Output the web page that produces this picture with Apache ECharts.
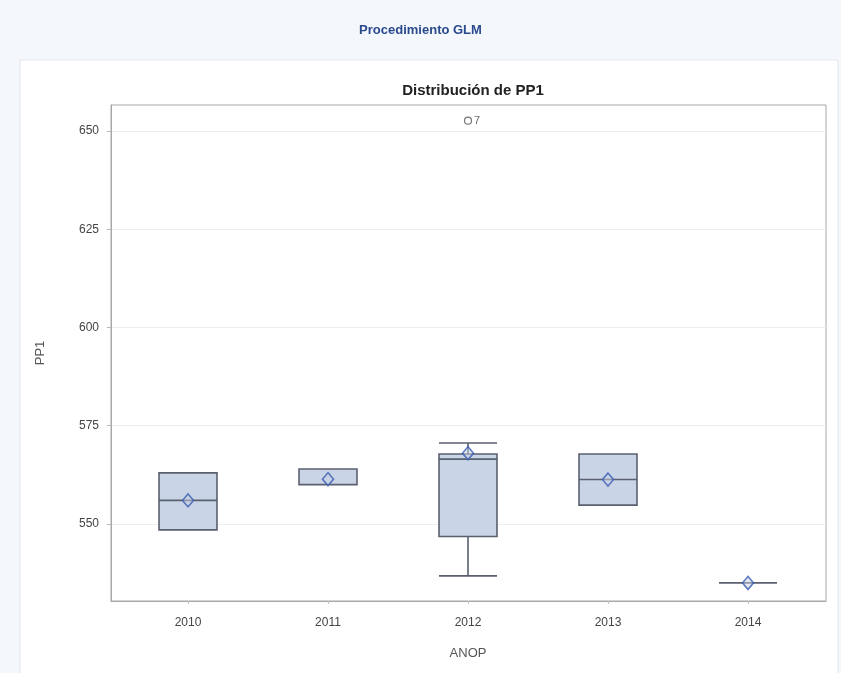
<!DOCTYPE html>
<html>
<head>
<meta charset="utf-8">
<style>
  html, body { margin: 0; padding: 0; background: #f4f7fb; }
  #main { width: 841px; height: 673px; }
</style>
<script src="https://cdn.jsdelivr.net/npm/echarts@6/dist/echarts.min.js"></script>
</head>
<body>
<div id="main"></div>
<script>
var years = ['2010', '2011', '2012', '2013', '2014'];
// box values
var lowWhisker = [548.5, 560.0, 536.8, 554.8, 535.0];
var q1 = [548.5, 560.0, 546.8, 554.8, 535.0];
var median = [556.0, 560.0, 566.5, 561.3, 535.0];
var q3 = [563.0, 564.0, 567.8, 567.8, 535.0];
var highWhisker = [563.0, 564.0, 570.6, 567.8, 535.0];
var means = [556.0, 561.4, 568.0, 561.3, 535.0];
var outliers = [['2012', 652.6, '7']];
var yTicks = [550, 575, 600, 625, 650];
var yMin = 530.4, yMax = 656.6;

var chartDom = document.getElementById('main');
var chart = echarts.init(chartDom, null, { renderer: 'canvas' });

var boxData = years.map(function (y, i) {
    return [lowWhisker[i], q1[i], median[i], q3[i], highWhisker[i]];
});

var font = '"Liberation Sans", Arial, sans-serif';
var labelColor = '#444444';

var option = {
    backgroundColor: '#f4f7fb',
    animation: false,
    graphic: [{
        type: 'rect',
        z: -10,
        shape: { x: 20, y: 60, width: 818, height: 620 },
        style: { fill: '#ffffff', stroke: '#e3e7ee', lineWidth: 1 }
    }],
    title: [{
        text: 'Procedimiento GLM',
        left: 'center',
        top: 19,
        textStyle: { fontFamily: font, fontSize: 13, fontWeight: 'bold', color: '#2a4a8e' }
    }, {
        text: 'Distribución de PP1',
        left: 468,
        textAlign: 'center',
        top: 78,
        textStyle: { fontFamily: font, fontSize: 15, fontWeight: 'bold', color: '#222222' }
    }],
    // grid 0: frame + y axis, grid 1: data area (a bit of padding on both sides)
    grid: [{
        left: 111, right: 15, top: 105, bottom: 72,
        show: true,
        borderColor: '#a8a8a8',
        borderWidth: 1,
        backgroundColor: '#ffffff'
    }, {
        left: 118, right: 23, top: 105, bottom: 72
    }],
    xAxis: [{
        type: 'category',
        gridIndex: 0,
        data: years,
        axisLine: { lineStyle: { color: '#a8a8a8' } },
        axisTick: { show: false },
        axisLabel: { show: false },
        splitLine: { show: false }
    }, {
        type: 'category',
        gridIndex: 1,
        data: years,
        name: 'ANOP',
        nameLocation: 'middle',
        nameGap: 46,
        nameTextStyle: { fontFamily: font, fontSize: 13, color: '#555555' },
        axisLine: { show: false },
        axisTick: { show: true, alignWithLabel: true, length: 3, lineStyle: { color: '#c4c4c4' } },
        axisLabel: { fontFamily: font, fontSize: 12, color: labelColor, margin: 16 },
        splitLine: { show: false }
    }],
    yAxis: [{
        type: 'value',
        gridIndex: 0,
        min: yMin,
        max: yMax,
        name: 'PP1',
        nameLocation: 'middle',
        nameGap: 64,
        nameTextStyle: { fontFamily: font, fontSize: 13, color: '#555555' },
        axisLine: { show: true, lineStyle: { color: '#a8a8a8' } },
        axisTick: { show: true, length: 4, customValues: yTicks, lineStyle: { color: '#b8b8b8' } },
        axisLabel: { fontFamily: font, fontSize: 12, color: labelColor, margin: 12, customValues: yTicks },
        splitLine: { show: true, lineStyle: { color: '#ececec' } }
    }, {
        type: 'value',
        gridIndex: 1,
        min: yMin,
        max: yMax,
        axisLine: { show: false },
        axisTick: { show: false },
        axisLabel: { show: false },
        splitLine: { show: false }
    }],
    series: [{
        type: 'boxplot',
        xAxisIndex: 1,
        yAxisIndex: 1,
        data: boxData,
        boxWidth: [58, 58],
        itemStyle: { color: '#c9d4e6', borderColor: '#5b6070', borderWidth: 1.6 },
        z: 2
    }, {
        type: 'scatter',
        xAxisIndex: 1,
        yAxisIndex: 1,
        data: means,
        symbol: 'diamond',
        symbolSize: [11, 13],
        itemStyle: { color: 'rgba(201,212,230,0.6)', borderColor: '#3a5cb0', borderWidth: 1.6 },
        z: 5
    }, {
        type: 'scatter',
        xAxisIndex: 1,
        yAxisIndex: 1,
        data: outliers.map(function (o) { return [o[0], o[1], o[2]]; }),
        symbol: 'circle',
        symbolSize: 7,
        itemStyle: { color: '#ffffff', borderColor: '#555555', borderWidth: 1.2 },
        label: {
            show: true,
            position: 'right',
            distance: 2,
            formatter: function (p) { return p.value[2]; },
            fontFamily: font,
            fontSize: 11,
            color: labelColor
        },
        z: 5
    }]
};

chart.setOption(option);
window.addEventListener('resize', function () {
    chart.resize();
});
</script>
</body>
</html>
